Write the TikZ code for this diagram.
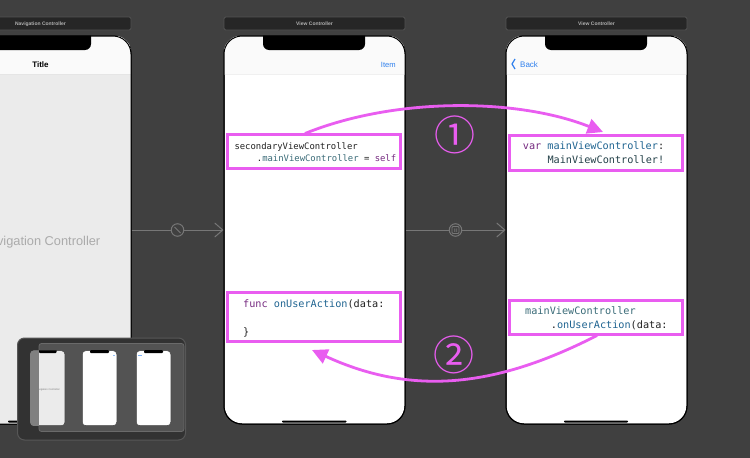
\documentclass[tikz,border=0pt]{standalone}
\usepackage{fontspec}
\setmainfont{Liberation Sans}
\newfontfamily\codefont{DejaVu Sans Mono}
\newfontfamily\circfont{Noto Sans CJK SC}
\usetikzlibrary{arrows.meta,calc}
\definecolor{bg}{HTML}{404040}
\definecolor{hot}{HTML}{E95DF0}
\definecolor{kw}{HTML}{762A80}
\definecolor{nm}{HTML}{1F6491}
\definecolor{cl}{HTML}{3A6B78}
\definecolor{ink}{HTML}{222222}
\definecolor{seg}{HTML}{777777}
\definecolor{ios}{HTML}{2F80ED}
\tikzset{
  phone/.style={draw=black,line width=1pt,rounded corners=18pt,minimum width=181pt,minimum height=388pt,inner sep=0},
  headerbar/.style={draw=white!10!bg,line width=.8pt,fill=black!40!bg,rounded corners=1.5pt,minimum width=181pt,minimum height=13pt,inner sep=0,text=white!60!bg,font=\bfseries\fontsize{5}{6}\selectfont},
  hotbox/.style={draw=hot,line width=3pt,inner sep=0},
  hotline/.style={draw=hot,line width=2.8pt,-{Triangle[length=15.5pt,width=15pt]}},
  code/.style={anchor=base west,inner sep=0,text=ink},
  small/.style={font=\codefont\fontsize{8.9}{10}\selectfont},
  big/.style={font=\codefont\fontsize{10.2}{12}\selectfont},
  segueline/.style={draw=seg,line width=1pt},
  seguebadge/.style={circle,draw=seg,line width=1pt,fill=bg,minimum size=12.5pt,inner sep=0},
  numeral/.style={text=hot,inner sep=0,font=\circfont\fontsize{41}{44}\selectfont},
  navlabel/.style={inner sep=0,font=\fontsize{7.6}{9}\selectfont},
  miniphone/.style={draw=black!75,line width=.5pt,rounded corners=3.5pt,fill=white,minimum width=34.5pt,minimum height=75pt,inner sep=0},
}
\begin{document}
\begin{tikzpicture}[x=1pt,y=-1pt]
\useasboundingbox (0,0) rectangle (750,458);
\fill[bg] (0,0) rectangle (750,458);
\begin{scope}
\clip (0,0) rectangle (750,458);
% headers
\node[headerbar] (h1) at (40.5,23.5) {};
\node[inner sep=0,text=white!60!bg,font=\bfseries\fontsize{5}{6}\selectfont] (h1t) at (40.5,24) {Navigation Controller};
\node[headerbar] (h2) at (314.5,23.5) {View Controller};
\node[headerbar] (h3) at (596.5,23.5) {View Controller};
% phones
\node[phone,fill=white] (p1) at (40.5,230) {};
\node[phone,fill=white] (p2) at (314.5,230) {};
\node[phone,fill=white] (p3) at (596.5,230) {};
\begin{scope}
\clip[rounded corners=18pt] (p1.south west) rectangle (p1.north east);
\fill[white!92!black] (-50,36) rectangle (131,424);
\fill[white!98!black] (-50,36) rectangle (131,74);
\draw[black!10,line width=.6pt] (-50,74) -- (131,74);
\fill[black,rounded corners=6pt] (-11,30) rectangle (91,50);
\end{scope}
\begin{scope}
\clip[rounded corners=18pt] (p2.south west) rectangle (p2.north east);
\fill[white!98!black] (224,36) rectangle (405,74);
\draw[black!6,line width=.6pt] (224,74) -- (405,74);
\fill[black,rounded corners=6pt] (263,30) rectangle (365,50);
\end{scope}
\begin{scope}
\clip[rounded corners=18pt] (p3.south west) rectangle (p3.north east);
\fill[white!98!black] (506,36) rectangle (687,74);
\draw[black!6,line width=.6pt] (506,74) -- (687,74);
\fill[black,rounded corners=6pt] (545,30) rectangle (647,50);
\end{scope}
\node[phone] (p1o) at (40.5,230) {};
\node[phone] (p2o) at (314.5,230) {};
\node[phone] (p3o) at (596.5,230) {};
% home bars
\fill[black,rounded corners=.8pt] (8,420.5) rectangle (73,422.5);
\fill[black,rounded corners=.8pt] (282,420.5) rectangle (346.5,422.5);
\fill[black,rounded corners=.8pt] (564,420.5) rectangle (628,422.5);
% nav labels
\node[navlabel,text=black,font=\bfseries\fontsize{8}{9}\selectfont] (title) at (40.5,64.6) {Title};
\node[navlabel,text=ios] (item) at (388.3,64.6) {Item};
\node[navlabel,text=ios,anchor=west,font=\fontsize{8}{9}\selectfont] (back) at (520,64.6) {Back};
\draw[ios,line width=1.2pt] (515,59) -- (512,64) -- (515,69);
\node[inner sep=0,text=black!33,font=\fontsize{12.8}{14}\selectfont] (navname) at (40.5,242.5) {Navigation Controller};
% segues
\draw[segueline,-{Straight Barb[length=8pt,width=14pt,line width=1pt]}] (p1.east) -- (p2.west) node[pos=.5,seguebadge] (s1) {};
\draw[seg,line width=1pt] ($(s1)+(-3,-3)$) -- ($(s1)+(3,3)$);
\draw[segueline,-{Straight Barb[length=8pt,width=14pt,line width=1pt]}] (p2.east) -- (p3.west) node[pos=.5,seguebadge] (s2) {};
\draw[seg,line width=.8pt,rounded corners=1pt] ($(s2)+(-3.5,-3.5)$) rectangle ($(s2)+(3.5,3.5)$);
\fill[seg] ($(s2)+(-1.5,-1.5)$) rectangle ($(s2)+(-.3,-.3)$) ($(s2)+(.3,-1.5)$) rectangle ($(s2)+(1.5,-.3)$) ($(s2)+(-1.5,.3)$) rectangle ($(s2)+(-.3,1.5)$) ($(s2)+(.3,.3)$) rectangle ($(s2)+(1.5,1.5)$);
% highlight boxes
\node[hotbox,minimum width=172.5pt,minimum height=34pt] (b1) at (313.8,151.5) {};
\node[hotbox,minimum width=172.5pt,minimum height=49pt] (b2) at (314,316.5) {};
\node[hotbox,minimum width=173pt,minimum height=34.5pt] (b3) at (596,152.8) {};
\node[hotbox,minimum width=173pt,minimum height=34.5pt] (b4) at (596,317.5) {};
% code
\node[code,small] (c1) at (234.3,149) {secondaryViewController};
\node[code,small] (c2) at (256.7,161.3) {.\textcolor{cl}{mainViewController} = \textcolor{kw}{self}};
\node[code,big] (c3) at (243,307) {\textcolor{kw}{func} \textcolor{nm}{onUserAction}(data:};
\node[code,big] (c4) at (243,335.3) {\}};
\node[code,big] (c5) at (522.7,149) {\textcolor{kw}{var} \textcolor{nm}{mainViewController}:};
\node[code,big,text=cl!60!black] (c6) at (547.3,163) {MainViewController!};
\node[code,big,text=cl] (c7) at (525,314.5) {mainViewController};
\node[code,big] (c8) at (550.7,328.7) {.\textcolor{nm}{onUserAction}(data:};
% hot arrows
\coordinate (a1s) at (305,133.5);
\coordinate (a1e) at (603,132);
\coordinate (a2s) at (597,335.5);
\coordinate (a2e) at (312,350);
\draw[hotline] (a1s) .. controls (395,97) and (517,98) .. (a1e);
\draw[hotline] (a2s) .. controls (500,385) and (416,398) .. (a2e);
\node[numeral] (n1) at (454.8,134.5) {①};
\node[numeral] (n2) at (454.3,354.5) {②};
% minimap
\draw[draw=white!12!bg,line width=1pt,fill=black!22!bg,rounded corners=7pt] (17.5,338) rectangle (185.5,440);
\draw[draw=white!22!bg,line width=.8pt,fill=white!10!bg,rounded corners=2.5pt] (39,343.5) rectangle (184,431.5);
\node[miniphone,fill=white!92!black] (m1) at (47.7,388.2) {};
\begin{scope}
\clip[rounded corners=3.5pt] (m1.south west) rectangle (m1.north east);
\fill[black!50] (30,350) rectangle (39,426);
\fill[black,rounded corners=1pt] (39,349) rectangle (56.5,353);
\end{scope}
\node[inner sep=0,text=black!50,font=\fontsize{2.6}{3}\selectfont] (m1t) at (47.7,390.3) {Navigation Controller};
\node[miniphone] (m2) at (99.5,388.2) {};
\node[miniphone] (m3) at (153.5,388.2) {};
\fill[black,rounded corners=1pt] (90,350) rectangle (109,353);
\fill[black,rounded corners=1pt] (144,350) rectangle (163,353);
\fill[ios!50!white] (112.5,355.2) rectangle (115,356.2);
\fill[ios!60!white] (137.5,355.2) rectangle (142,356.2);
\end{scope}
\end{tikzpicture}
\end{document}
